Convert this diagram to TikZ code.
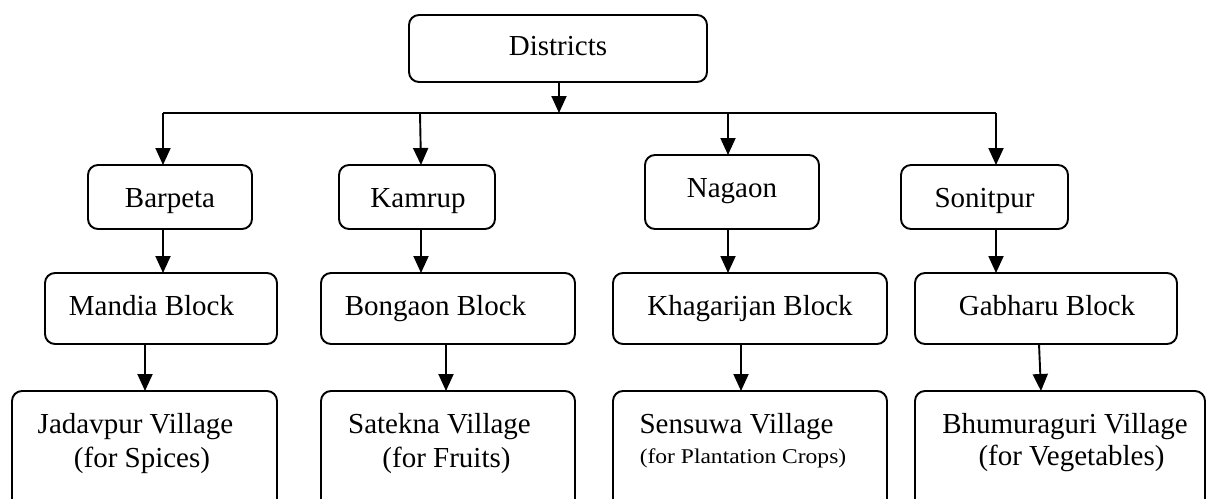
\documentclass[tikz,border=0pt]{standalone}
\usepackage{fontspec}
\setmainfont{Liberation Serif}
\usetikzlibrary{arrows.meta}
\begin{document}
\begin{tikzpicture}[x=1pt,y=-1pt,
  box/.style={draw=black, line width=1.9pt, rounded corners=10pt, inner sep=0pt, outer sep=0pt},
  txt/.style={inner sep=0pt, anchor=base, font=\fontsize{29}{34}\selectfont},
  smalltxt/.style={inner sep=0pt, anchor=base, font=\fontsize{21}{24}\selectfont},
  arr/.style={line width=1.9pt, -{Triangle[width=15pt,length=17pt]}},
  bus/.style={line width=1.9pt}]
\useasboundingbox (0,0) rectangle (1207,498);
\clip (0,0) rectangle (1207,498);

% boxes
\node[box, minimum width=298pt, minimum height=67pt] (districts) at (558,48.5) {};
\node[box, minimum width=164pt, minimum height=64pt] (barpeta) at (170,197) {};
\node[box, minimum width=156pt, minimum height=64pt] (kamrup) at (417,197) {};
\node[box, minimum width=174pt, minimum height=74pt] (nagaon) at (732,192) {};
\node[box, minimum width=167pt, minimum height=64pt] (sonitpur) at (984.5,197) {};
\node[box, minimum width=232pt, minimum height=71pt] (mandia) at (161,308.5) {};
\node[box, minimum width=254pt, minimum height=71pt] (bongaon) at (448,308.5) {};
\node[box, minimum width=274pt, minimum height=71pt] (khagarijan) at (750,308.5) {};
\node[box, minimum width=262pt, minimum height=71pt] (gabharu) at (1046,308.5) {};
\node[box, minimum width=265pt, minimum height=129pt] (jadavpur) at (144.5,455.5) {};
\node[box, minimum width=254pt, minimum height=129pt] (satekna) at (448,455.5) {};
\node[box, minimum width=274pt, minimum height=129pt] (sensuwa) at (750,455.5) {};
\node[box, minimum width=290pt, minimum height=129pt] (bhumuraguri) at (1060,455.5) {};

% texts
\node[txt] (t-districts) at (558,55) {Districts};
\node[txt] (t-barpeta) at (170,207) {Barpeta};
\node[txt] (t-kamrup) at (418,207) {Kamrup};
\node[txt] (t-nagaon) at (732,197) {Nagaon};
\node[txt] (t-sonitpur) at (984.5,207) {Sonitpur};
\node[txt] (t-mandia) at (151.5,315) {Mandia Block};
\node[txt] (t-bongaon) at (435.5,315) {Bongaon Block};
\node[txt] (t-khagarijan) at (750,315) {Khagarijan Block};
\node[txt] (t-gabharu) at (1047,315) {Gabharu Block};
\node[txt] (t-jadavpur1) at (135.5,433) {Jadavpur Village};
\node[txt] (t-jadavpur2) at (142,467) {(for Spices)};
\node[txt] (t-satekna1) at (439.5,433) {Satekna Village};
\node[txt] (t-satekna2) at (446.5,467) {(for Fruits)};
\node[txt] (t-sensuwa1) at (736.5,433) {Sensuwa Village};
\node[smalltxt] (t-sensuwa2) at (743,463) {\scalebox{1.12}[1]{(for Plantation Crops)}};
\node[txt] (t-bhumuraguri1) at (1065,433) {Bhumuraguri Village};
\node[txt] (t-bhumuraguri2) at (1071.5,465) {(for Vegetables)};

% bus
\coordinate (busL) at (163,113);
\coordinate (busR) at (996,113);
\coordinate (busK) at (420,113);
\coordinate (busN) at (728,113);
\draw[arr] ([xshift=1pt]districts.south) -- ([xshift=1pt]districts.south |- busL);
\draw[bus] (busL) -- (busR);
\draw[arr] (busL) -- ([xshift=-7pt]barpeta.north);
\draw[arr] (busK) -- ([xshift=4pt]kamrup.north);
\draw[arr] (busN) -- ([xshift=-4pt]nagaon.north);
\draw[arr] (busR) -- ([xshift=11.5pt]sonitpur.north);

% district -> block
\draw[arr] ([xshift=-7pt]barpeta.south) -- ([xshift=2pt]mandia.north);
\draw[arr] ([xshift=4pt]kamrup.south) -- ([xshift=-27pt]bongaon.north);
\draw[arr] ([xshift=-4pt]nagaon.south) -- ([xshift=-22pt]khagarijan.north);
\draw[arr] ([xshift=11.5pt]sonitpur.south) -- ([xshift=-50pt]gabharu.north);

% block -> village
\draw[arr] ([xshift=-16pt]mandia.south) -- ([xshift=0.5pt]jadavpur.north);
\draw[arr] ([xshift=-2pt]bongaon.south) -- ([xshift=-2pt]satekna.north);
\draw[arr] ([xshift=-9pt]khagarijan.south) -- ([xshift=-9pt]sensuwa.north);
\draw[arr] ([xshift=-7pt]gabharu.south) -- ([xshift=-19pt]bhumuraguri.north);
\end{tikzpicture}
\end{document}
